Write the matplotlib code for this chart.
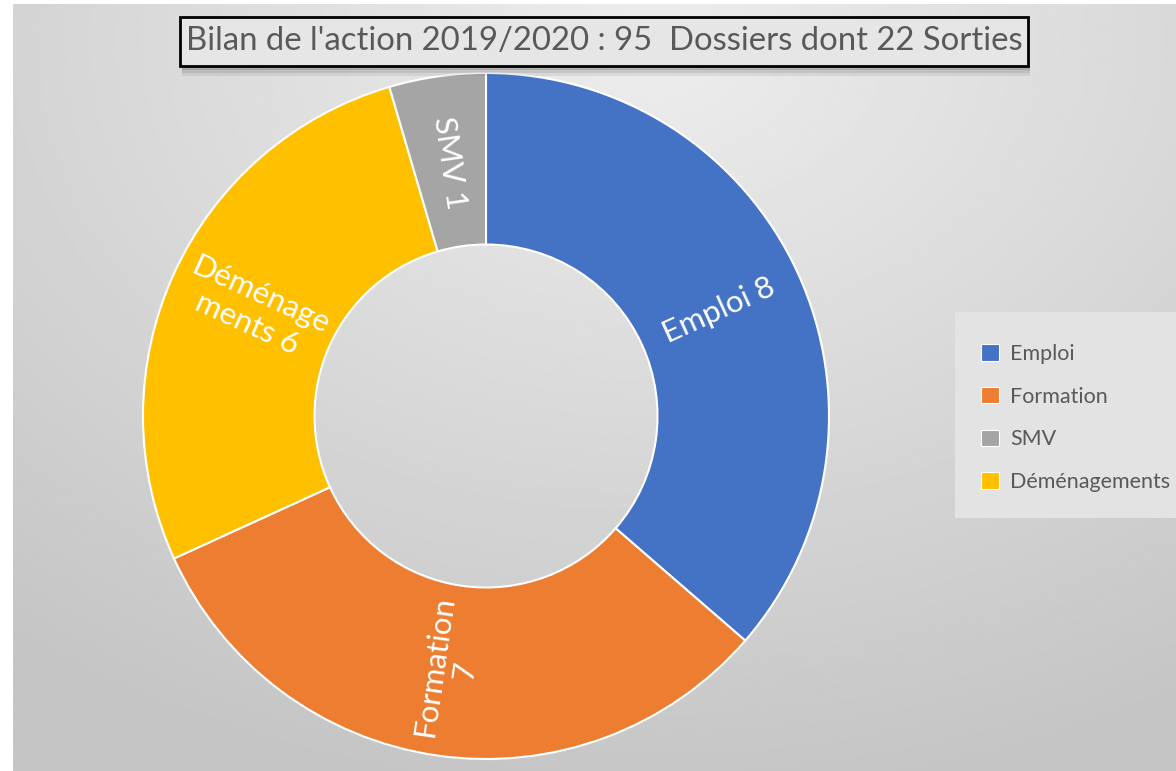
import numpy as np
import matplotlib.pyplot as plt
from matplotlib.patches import Rectangle, Patch

# data
labels = ["Emploi", "Formation", "SMV", "Déménagements"]
values = [8, 7, 1, 6]
colors = ["#4472C4", "#ED7D31", "#A5A5A5", "#FFC000"]
# order in which the ring is drawn (clockwise from the top)
ring_order = ["Emploi", "Formation", "Déménagements", "SMV"]
label_text = {"Emploi": "Emploi 8", "Formation": "Formation\n7",
              "SMV": "SMV 1", "Déménagements": "Déménage\nments 6"}
title = "Bilan de l'action 2019/2020 : 95  Dossiers dont 22 Sorties"

plt.rcParams["font.family"] = ["Lato", "DejaVu Sans"]

W, H = 1176, 771
fig = plt.figure(figsize=(W / 100, H / 100), dpi=100)
fig.patch.set_facecolor("white")

# gradient background
bg = fig.add_axes([13 / W, 0, 1 - 13 / W, 1 - 4 / H])
yy, xx = np.mgrid[0:1:300j, 0:1:400j]
d = np.sqrt(((xx - 0.55) / 0.9) ** 2 + ((yy - 0.05) / 1.0) ** 2)
shade = 0.93 - 0.16 * np.clip(d, 0, 1)
bg.imshow(shade, cmap="gray", vmin=0, vmax=1, aspect="auto",
          extent=[0, 1, 1, 0], interpolation="bilinear")
bg.set_axis_off()

# donut
cx, cy, R = 486, 416, 343
ax = fig.add_axes([(cx - R) / W, (H - cy - R) / H, 2 * R / W, 2 * R / H])
ring_vals = [values[labels.index(n)] for n in ring_order]
ring_cols = [colors[labels.index(n)] for n in ring_order]
wedges, _ = ax.pie(ring_vals, colors=ring_cols, startangle=90, counterclock=False,
                   radius=1.0, wedgeprops=dict(width=0.5, edgecolor="white", linewidth=1.5))
ax.set_xlim(-1, 1)
ax.set_ylim(-1, 1)
ax.set_aspect("auto")
ax.set_axis_off()

for w, name in zip(wedges, ring_order):
    mid = np.deg2rad((w.theta1 + w.theta2) / 2)
    r = 0.745
    rot = np.rad2deg(mid)
    if np.cos(mid) < 0:
        rot += 180
    rot = (rot + 180) % 360 - 180
    ax.text(r * np.cos(mid), r * np.sin(mid), label_text[name], color="white",
            fontsize=22.5, ha="center", va="center", rotation=rot,
            rotation_mode="anchor", linespacing=1.15)

# title box with soft shadow
tx0, ty0, tx1, ty1 = 180, 17, 1028, 66
for k, a in enumerate([0.12, 0.16, 0.22]):
    off = 10 - 3 * k
    fig.patches.append(Rectangle(((tx0 + 2) / W, 1 - (ty1 + off) / H), (tx1 - tx0) / W,
                                 (ty1 - ty0) / H, transform=fig.transFigure,
                                 facecolor="#606060", edgecolor="none", alpha=a, zorder=2))
fig.patches.append(Rectangle((tx0 / W, 1 - ty1 / H), (tx1 - tx0) / W, (ty1 - ty0) / H,
                             transform=fig.transFigure, facecolor="#e6e6e6", edgecolor="black",
                             linewidth=2, zorder=3))
fig.text((tx0 + tx1) / 2 / W, 1 - (ty0 + ty1) / 2 / H, title, ha="center", va="center",
         fontsize=23.7, color="#595959", zorder=4)

# legend
fig.patches.append(Rectangle((955 / W, 1 - 518 / H), (W - 955) / W, (518 - 312) / H,
                             transform=fig.transFigure, facecolor="#e3e3e3", edgecolor="none",
                             zorder=2))
handles = [Patch(facecolor=c, edgecolor="white", linewidth=0.8) for c in colors]
fig.legend(handles, labels, loc="center left", bbox_to_anchor=(962 / W, 1 - 418 / H),
           frameon=False, fontsize=15.5, labelcolor="#595959", handlelength=0.8,
           handleheight=0.8, handletextpad=0.55, labelspacing=1.05)

fig.savefig("out.png", dpi=100)
